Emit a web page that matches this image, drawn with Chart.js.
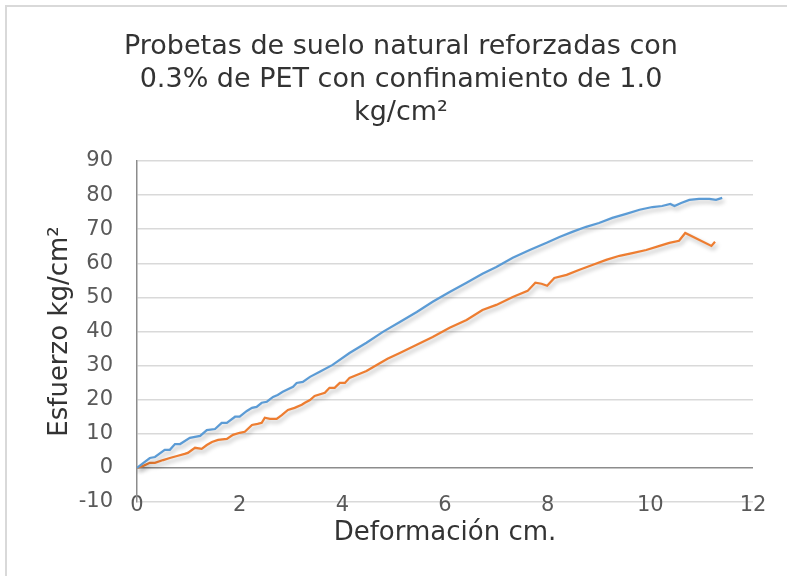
<!DOCTYPE html>
<html>
<head>
<meta charset="utf-8">
<script src="https://cdn.jsdelivr.net/npm/chart.js@4"></script>
<style>
  html, body { margin: 0; padding: 0; background: #fff; }
  #wrap { width: 787px; height: 576px; position: relative; }
</style>
</head>
<body>
<div id="wrap"><canvas id="chart" width="787" height="576"></canvas></div>
<script>
// Data (deformation cm, stress kg/cm2)
const blueX = [0, 0.12, 0.25, 0.35, 0.54, 0.64, 0.74, 0.84, 1.03, 1.13, 1.23, 1.36, 1.52, 1.65, 1.75, 1.91, 2.0, 2.14, 2.24, 2.33, 2.43, 2.53, 2.65, 2.74, 2.84, 2.92, 3.04, 3.11, 3.23, 3.37, 3.56, 3.81, 4.14, 4.47, 4.79, 5.12, 5.45, 5.76, 6.09, 6.42, 6.73, 7.0, 7.32, 7.65, 7.98, 8.23, 8.48, 8.75, 9.0, 9.26, 9.53, 9.79, 10.04, 10.23, 10.39, 10.47, 10.6, 10.76, 10.95, 11.15, 11.28, 11.4];
const blueY = [0, 1.4, 2.9, 3.2, 5.3, 5.3, 7.0, 7.0, 8.8, 9.1, 9.4, 11.1, 11.4, 13.2, 13.2, 15.0, 15.0, 16.7, 17.6, 17.9, 19.1, 19.4, 20.8, 21.4, 22.3, 22.9, 23.8, 24.9, 25.2, 26.7, 28.2, 30.2, 33.7, 36.7, 39.9, 42.8, 45.7, 48.7, 51.6, 54.3, 56.9, 58.9, 61.6, 63.9, 66.0, 67.7, 69.2, 70.7, 71.8, 73.3, 74.5, 75.7, 76.5, 76.8, 77.4, 76.8, 77.7, 78.6, 78.9, 78.9, 78.6, 79.2];

const orangeX = [0, 0.12, 0.25, 0.35, 0.51, 0.64, 0.78, 0.93, 0.99, 1.13, 1.26, 1.36, 1.46, 1.58, 1.75, 1.87, 2.0, 2.1, 2.24, 2.35, 2.43, 2.49, 2.59, 2.72, 2.82, 2.94, 3.07, 3.21, 3.27, 3.37, 3.46, 3.66, 3.75, 3.85, 3.95, 4.05, 4.14, 4.34, 4.47, 4.67, 4.88, 5.12, 5.45, 5.76, 6.09, 6.42, 6.73, 7.0, 7.32, 7.61, 7.76, 7.88, 7.99, 8.13, 8.37, 8.62, 8.87, 9.14, 9.4, 9.65, 9.92, 10.18, 10.37, 10.56, 10.68, 11.19, 11.26];
const orangeY = [0, 0.6, 1.5, 1.5, 2.3, 2.9, 3.5, 4.1, 4.4, 5.9, 5.6, 6.7, 7.6, 8.2, 8.5, 9.7, 10.3, 10.6, 12.6, 12.9, 13.2, 14.7, 14.4, 14.4, 15.5, 17.0, 17.6, 18.5, 19.1, 19.9, 21.1, 22.0, 23.5, 23.5, 24.9, 24.9, 26.4, 27.6, 28.4, 30.2, 32.0, 33.7, 36.1, 38.4, 41.1, 43.4, 46.3, 47.8, 50.1, 51.9, 54.3, 54.0, 53.4, 55.7, 56.6, 58.1, 59.5, 61.0, 62.2, 63.0, 63.9, 65.1, 66.0, 66.6, 68.9, 65.1, 66.3];

const titleLines = ['Probetas de suelo natural reforzadas con', '0.3% de PET con confinamiento de 1.0', 'kg/cm²'];
const FONT = "'DejaVu Sans', sans-serif";

const toPoints = (xs, ys) => xs.map((x, i) => ({ x: x, y: ys[i] }));

// light frame and soft line shadow like the office chart
const framePlugin = {
    id: 'frame',
    beforeDraw(chart) {
        const ctx = chart.ctx;
        ctx.save();
        ctx.fillStyle = '#fff';
        ctx.fillRect(0, 0, chart.width, chart.height);
        ctx.strokeStyle = '#d9d9d9';
        ctx.lineWidth = 2;
        ctx.strokeRect(6, 6, 900, 700);
        ctx.restore();
    },
    beforeDatasetsDraw(chart) {
        const ctx = chart.ctx;
        ctx.save();
        ctx.shadowColor = 'rgba(0,0,0,0.28)';
        ctx.shadowBlur = 4;
        ctx.shadowOffsetX = 2;
        ctx.shadowOffsetY = 3;
    },
    afterDatasetsDraw(chart) {
        chart.ctx.restore();
    }
};

const ctx = document.getElementById('chart').getContext('2d');
new Chart(ctx, {
    type: 'line',
    data: {
        datasets: [{
            data: toPoints(blueX, blueY),
            borderColor: '#5b9bd5',
            borderWidth: 2.25,
            pointRadius: 0,
            tension: 0
        }, {
            data: toPoints(orangeX, orangeY),
            borderColor: '#ed7d31',
            borderWidth: 2.25,
            pointRadius: 0,
            tension: 0
        }]
    },
    options: {
        responsive: false,
        animation: false,
        layout: { padding: { top: 0, left: 49, right: 34, bottom: 0 } },
        plugins: {
            legend: { display: false },
            tooltip: { enabled: false },
            title: {
                display: true,
                text: titleLines,
                color: '#333333',
                font: { family: FONT, size: 27, weight: 'normal', lineHeight: 1.222 },
                padding: { top: 30, bottom: 32 }
            }
        },
        scales: {
            x: {
                type: 'linear',
                min: 0, max: 12,
                afterFit: (s) => { s.height = 74; },
                grid: { display: false, drawTicks: false },
                border: { display: false },
                // mirror only switches off the label clip, so labels can sit on the bottom gridline
                ticks: { stepSize: 2, mirror: true, padding: -16, color: '#595959', font: { family: FONT, size: 21 } },
                title: {
                    display: true,
                    text: 'Deformación cm.',
                    color: '#333333',
                    font: { family: FONT, size: 26 },
                    padding: { top: 0, bottom: 27 }
                }
            },
            y: {
                min: -10, max: 90,
                afterFit: (s) => { s.width = 88; },
                grid: {
                    drawTicks: false,
                    color: (c) => c.tick && c.tick.value === 0 ? '#8c8c8c' : '#d9d9d9',
                    lineWidth: 1.5
                },
                border: { display: true, color: '#8c8c8c', width: 1.5 },
                ticks: { stepSize: 10, padding: 24, color: '#595959', font: { family: FONT, size: 21 } },
                title: {
                    display: true,
                    text: 'Esfuerzo kg/cm²',
                    color: '#333333',
                    font: { family: FONT, size: 26 },
                    padding: { top: -4, bottom: 0 }
                }
            }
        }
    },
    plugins: [framePlugin]
});
</script>
</body>
</html>
